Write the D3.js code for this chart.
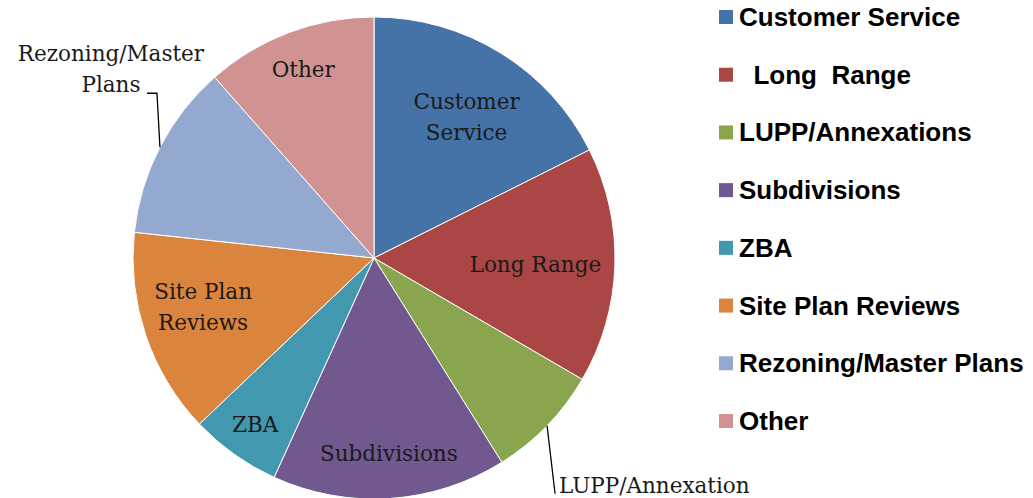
<!DOCTYPE html>
<html>
<head>
<meta charset="utf-8">
<script src="https://cdnjs.cloudflare.com/ajax/libs/d3/7.8.5/d3.min.js"></script>
<style>
    body { margin: 0; background: #fff; }
    .sliceLabel { font-family: "DejaVu Serif", serif; font-size: 21.5px; fill: #1a1a1a; }
    .legendText { font-family: "Liberation Sans", Arial, sans-serif; font-weight: bold; font-size: 26px; fill: #000; white-space: pre; }
</style>
</head>
<body>
<script>
(function(){

    //chart data (percent of workload)
    var categories = ["Customer Service", "Long Range", "LUPP/Annexations", "Subdivisions", "ZBA", "Site Plan Reviews", "Rezoning/Master Plans", "Other"];
    var values = [17.6, 15.8, 7.7, 15.7, 6.1, 13.8, 11.8, 11.5];
    var legendLabels = ["Customer Service", "  Long  Range", "LUPP/Annexations", "Subdivisions", "ZBA", "Site Plan Reviews", "Rezoning/Master Plans", "Other"];
    var sliceLabels = [["Customer", "Service"], ["Long Range"], ["LUPP/Annexation"], ["Subdivisions"], ["ZBA"], ["Site Plan", "Reviews"], ["Rezoning/Master", "Plans"], ["Other"]];
    var colors = ["#4572A7", "#AA4643", "#89A54E", "#71588F", "#4198AF", "#DB843D", "#93A9CF", "#D19392"];

    window.onload = setChart();

    function setChart(){
        var width = 1033, height = 498,
            cx = 374, cy = 258, radius = 241;

        var svg = d3.select("body")
            .append("svg")
            .attr("width", width)
            .attr("height", height);

        var color = d3.scaleOrdinal().domain(categories).range(colors);

        var pie = d3.pie().sort(null).value(function(d){ return d.value; });
        var data = categories.map(function(c, i){ return {name: c, value: values[i], idx: i}; });
        var arcs = pie(data);

        var arc = d3.arc().innerRadius(0).outerRadius(radius);

        var g = svg.append("g").attr("transform", "translate(" + cx + "," + cy + ")");

        g.selectAll(".slice")
            .data(arcs)
            .enter()
            .append("path")
            .attr("class", "slice")
            .attr("d", arc)
            .style("fill", function(d){ return color(d.data.name); })
            .style("stroke", "#fff")
            .style("stroke-width", 1);

        //label radius as a fraction of the pie radius (inside labels), plus small nudges
        var labelFrac = [0.70, 0.67, null, 0.81, 0.85, 0.74, null, 0.83];
        var nudge = [[4, 3], [0, 2], null, [2, 1], [0, 0], [-2, -8], null, [0, -1]];
        var lineH = 31;

        arcs.forEach(function(d, i){
            var mid = (d.startAngle + d.endAngle) / 2;
            var lines = sliceLabels[i];
            if (labelFrac[i] !== null){
                var r = radius * labelFrac[i];
                var x = Math.sin(mid) * r + nudge[i][0], y = -Math.cos(mid) * r + nudge[i][1];
                var t = g.append("text")
                    .attr("class", "sliceLabel")
                    .attr("text-anchor", "middle");
                lines.forEach(function(l, k){
                    t.append("tspan")
                        .attr("x", x)
                        .attr("y", y + (k - (lines.length - 1) / 2) * lineH + 7)
                        .text(l);
                });
            }
        });

        //outside labels with leader lines
        var lupp = arcs[2], luppMid = (lupp.startAngle + lupp.endAngle) / 2;
        var p0 = [Math.sin(luppMid) * radius, -Math.cos(luppMid) * radius];
        g.append("path")
            .attr("d", "M" + p0[0] + "," + p0[1] + "L" + (p0[0] + 8) + "," + (p0[1] + 68))
            .style("stroke", "#000").style("fill", "none").style("stroke-width", 1.3);
        g.append("text")
            .attr("class", "sliceLabel")
            .attr("x", p0[0] + 12)
            .attr("y", p0[1] + 67)
            .text(sliceLabels[2][0]);

        var rez = arcs[6], rezMid = (rez.startAngle + rez.endAngle) / 2;
        var q0 = [Math.sin(rezMid) * radius, -Math.cos(rezMid) * radius];
        g.append("path")
            .attr("d", "M" + q0[0] + "," + q0[1] + "L" + (q0[0] - 3) + "," + (q0[1] - 54) + "L" + (q0[0] - 13) + "," + (q0[1] - 54))
            .style("stroke", "#000").style("fill", "none").style("stroke-width", 1.3);
        var rt = g.append("text")
            .attr("class", "sliceLabel")
            .attr("text-anchor", "middle");
        var rezCenter = q0[0] - 49;
        rt.append("tspan").attr("x", rezCenter).attr("y", q0[1] - 86).text(sliceLabels[6][0]);
        rt.append("tspan").attr("x", rezCenter).attr("y", q0[1] - 55).text(sliceLabels[6][1]);

        //legend
        var legendY = d3.scalePoint()
            .domain(categories)
            .range([17, 421]);

        var legend = svg.selectAll(".legendItem")
            .data(categories)
            .enter()
            .append("g")
            .attr("class", "legendItem")
            .attr("transform", function(d){ return "translate(719," + legendY(d) + ")"; });

        legend.append("rect")
            .attr("x", 0)
            .attr("y", -7)
            .attr("width", 14)
            .attr("height", 14)
            .style("fill", function(d){ return color(d); });

        legend.append("text")
            .attr("class", "legendText")
            .attr("x", 20)
            .attr("y", 9)
            .text(function(d, i){ return legendLabels[i]; });
    }
})();
</script>
</body>
</html>
